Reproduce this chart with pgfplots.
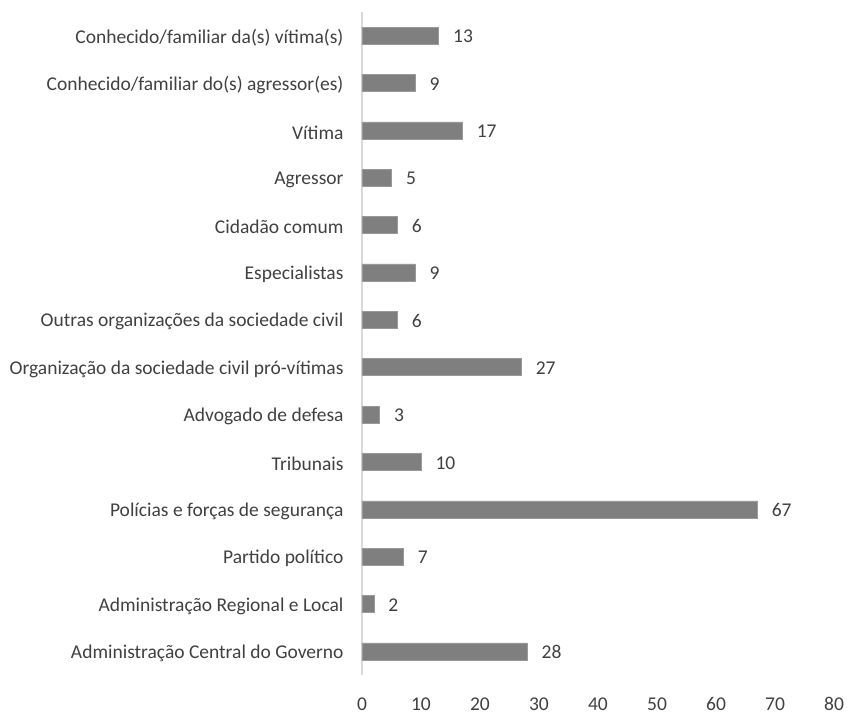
\documentclass[border=0pt]{standalone}
\usepackage{pgfplots}
\pgfplotsset{compat=1.18}
\usepackage{fontspec}
\setmainfont{Carlito}
\definecolor{txt}{HTML}{404040}
\definecolor{bar}{HTML}{7F7F7F}
\definecolor{axl}{HTML}{D9D9D9}
\begin{document}
\begin{tikzpicture}
\useasboundingbox (-362bp,-40bp) rectangle (485bp,675bp);
\begin{axis}[
  at={(0,0)}, anchor=south west,
  scale only axis, width=472bp, height=663bp,
  xbar, bar width=17bp,
  xmin=0, xmax=80, xtick={0,10,...,80},
  ymin=-0.5, ymax=13.5, y dir=reverse,
  ytick={0,...,13},
  yticklabels={Conhecido/familiar da(s) vítima(s),Conhecido/familiar do(s) agressor(es),Vítima,Agressor,Cidadão comum,Especialistas\ ,Outras organizações da sociedade civil,Organização da sociedade civil pró-vítimas,Advogado de defesa,Tribunais,Polícias e forças de segurança,Partido político,Administração Regional e Local,Administração Central do Governo},
  axis line style={draw=none},
  major tick length=0pt,
  tick style={draw=none},
  ticklabel style={font=\fontsize{19.5bp}{23bp}\selectfont, text=txt},
  /pgf/number format/assume math mode=true,
  xticklabel style={yshift=-19bp},
  yticklabel style={xshift=-15bp, yshift=-2bp},
  nodes near coords,
  nodes near coords style={font=\fontsize{19.5bp}{23bp}\selectfont, text=txt, anchor=west, xshift=11bp, yshift=-1bp},
  clip=false,
  extra x ticks={0}, extra x tick labels={},
  extra x tick style={grid=major, major grid style={draw=axl, line width=1.2bp}},
]
\addplot[fill=bar, draw=black!40, line width=0.4bp] coordinates {
(13,0) (9,1) (17,2) (5,3) (6,4) (9,5) (6,6) (27,7) (3,8) (10,9) (67,10) (7,11) (2,12) (28,13)
};
\end{axis}
\end{tikzpicture}
\end{document}
